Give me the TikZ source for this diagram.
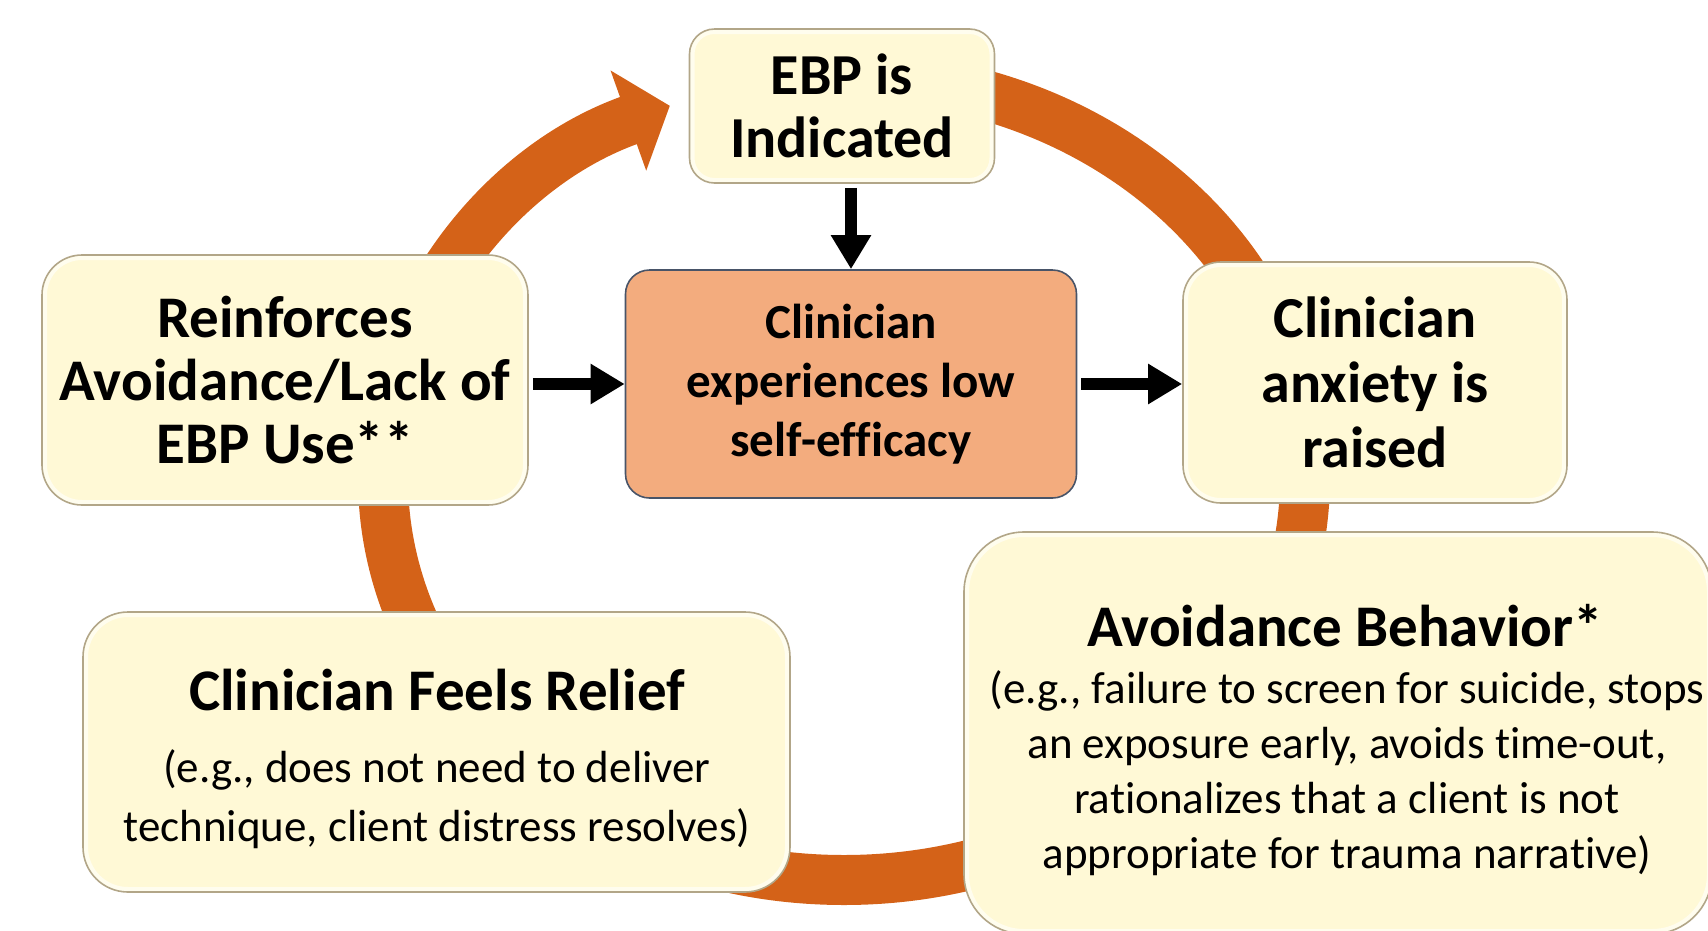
\documentclass[tikz,border=0pt]{standalone}
\usepackage{fontspec}
\setmainfont{Carlito}[Ligatures={NoCommon}]
\usetikzlibrary{arrows.meta}
\definecolor{ringorange}{RGB}{212,98,24}
\definecolor{boxfill}{RGB}{255,249,214}
\definecolor{boxedge}{RGB}{178,166,136}
\definecolor{boxrim}{RGB}{255,253,238}
\definecolor{effill}{RGB}{243,172,126}
\definecolor{efedge}{RGB}{72,84,104}
\tikzset{
  cyclebox/.style={draw=boxedge, line width=1.6pt, fill=boxfill, align=center,
    inner sep=0pt, text=black, rounded corners=#1,
    path picture={\draw[boxrim, line width=10pt, rounded corners=#1]
      (path picture bounding box.south west) rectangle (path picture bounding box.north east);}},
  cyclebox/.default=40pt,
  effbox/.style={draw=efedge, line width=1.6pt, fill=effill, align=center,
    inner sep=0pt, text=black, rounded corners=24pt},
  ringarrow/.style={draw=ringorange, line width=50pt,
    -{Triangle[width=104pt,length=44pt]}},
  blackarrow/.style={draw=black, line width=12pt,
    -{Triangle[width=38pt,length=34pt]}, shorten <=4pt},
  titlefont/.style={font=\fontsize{59}{63}\selectfont\bfseries},
  subfont/.style={font=\fontsize{45}{#1}\selectfont, align=center, inner sep=0pt},
}
\begin{document}
\begin{tikzpicture}[x=1pt,y=-1pt]
\useasboundingbox (0,0) rectangle (1708,930);
\begin{scope}
\clip (0,0) rectangle (1708,930);
% orange cycle ring (drawn first, behind the boxes)
\coordinate (ringstart) at (844,76);
\draw[ringarrow] (ringstart) arc[start angle=-90, end angle=247.8, x radius=461, y radius=402];

% boxes
\node[cyclebox=25pt, minimum width=305pt, minimum height=154pt,
      font=\fontsize{58}{63}\selectfont\bfseries] (ebp) at (842,106) {EBP is\\Indicated};
\node[effbox, minimum width=451pt, minimum height=228pt,
      font=\fontsize{49}{59}\selectfont\bfseries] (eff) at (851,384)
      {Clinician\\experiences low\\self-efficacy};
\node[cyclebox=40pt, minimum width=486pt, minimum height=250pt,
      font=\fontsize{59}{63}\selectfont\bfseries] (reinf) at (285,380)
      {Reinforces\\Avoidance/Lack of\\EBP Use**};
\node[cyclebox=38pt, minimum width=384pt, minimum height=241pt,
      font=\fontsize{58}{65}\selectfont\bfseries] (anx) at (1375,382.5)
      {Clinician\\anxiety is\\raised};
\node[cyclebox=45pt, minimum width=707pt, minimum height=280pt] (relief) at (436.5,752) {};
\node[cyclebox=60pt, minimum width=748pt, minimum height=402pt] (avoid) at (1338,733) {};

% texts of the two lower boxes
\node[titlefont, anchor=base, inner sep=0pt] (relieftitle) at (437,710) {Clinician Feels Relief};
\node[subfont=59] (reliefsub) at (437,799)
  {(e.g., does not need to deliver\\technique, client distress resolves)};
\node[titlefont, anchor=base, inner sep=0pt] (avoidtitle) at (1345,646) {Avoidance Behavior*};
\node[subfont=55] (avoidsub) at (1347,773)
  {(e.g., failure to screen for suicide, stops\\an exposure early, avoids time-out,\\rationalizes that a client is not\\appropriate for trauma narrative)};

% black arrows
\draw[blackarrow] (eff.north |- ebp.south) -- (eff.north);
\draw[blackarrow] (reinf.east |- eff.west) -- (eff.west);
\draw[blackarrow] (eff.east) -- (anx.west |- eff.east);
\end{scope}
\end{tikzpicture}
\end{document}
